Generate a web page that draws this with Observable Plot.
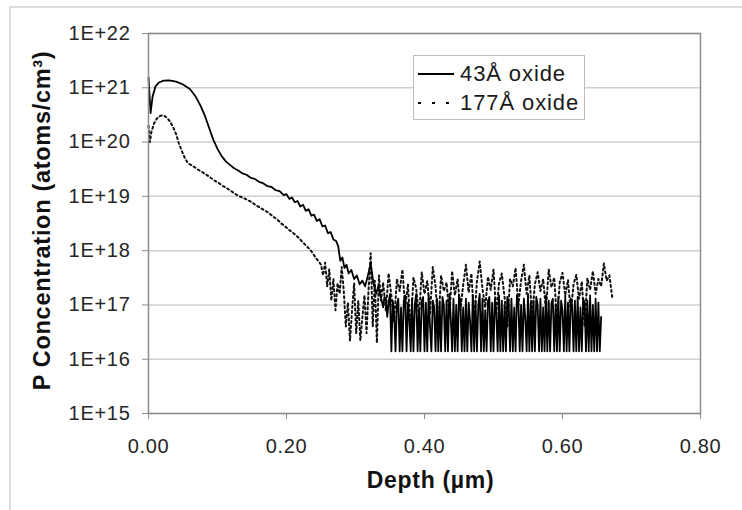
<!DOCTYPE html>
<html>
<head>
<meta charset="utf-8">
<script src="https://cdn.jsdelivr.net/npm/d3@7"></script>
<script src="https://cdn.jsdelivr.net/npm/@observablehq/plot@0.6"></script>
<style>
  body { margin: 0; background: #fff; }
  #wrap { position: relative; width: 742px; height: 510px; overflow: hidden; background: #fff;
          font-family: "Liberation Sans", Arial, Helvetica, sans-serif; }
  #outer { position: absolute; left: 9px; top: 6px; width: 760px; height: 530px;
           border: 2px solid #dcdcdc; box-sizing: border-box; }
  #chart { position: absolute; left: 0; top: 0; }
  #legend { position: absolute; left: 413px; top: 55px; width: 172px; height: 65px;
            border: 1.5px solid #bdbdbd; background: #fff; box-sizing: border-box;
            font-size: 22px; letter-spacing: 0.9px; color: #1a1a1a; }
  .row { position: absolute; left: 4px; height: 26px; display: flex; align-items: center; }
  .row svg { margin-right: 6px; }
</style>
</head>
<body>
<div id="wrap">
  <div id="outer"></div>
  <div id="chart"></div>
  <div id="legend"></div>
</div>
<script>
// ---- data ----
const seriesNames = ["43Å oxide", "177Å oxide"];
const xTicks = [0, 0.2, 0.4, 0.6, 0.8];
const yTicks = [1e15, 1e16, 1e17, 1e18, 1e19, 1e20, 1e21, 1e22];

// 43 Å oxide: depth (µm) and P concentration (atoms/cm3)
const depth43 = [
  0.000,0.003,0.006,0.010,0.015,0.022,0.030,0.040,0.050,0.060,0.068,0.075,0.082,0.088,0.094,
  0.100,0.106,0.112,0.118,0.124,0.130,0.136,0.142,0.148,0.154,0.160,0.166,0.172,0.178,0.184,
  0.190,0.196,0.200,0.204,0.208,0.212,0.216,0.220,0.224,0.228,0.232,0.236,0.240,0.244,0.248,
  0.252,0.256,0.260,0.264,0.268,0.272,0.275,0.278,0.281,0.284,0.287,0.290,0.294,0.298,0.302,
  0.306,0.310,0.314,0.318,0.322,0.326,0.330,0.333,
  0.336,0.338,0.340,0.342,0.344,0.346,0.348,0.350,0.352,0.354,
  0.356,0.358,0.360,0.362,0.364,0.366,0.368,0.370,0.372,0.374,
  0.376,0.378,0.380,0.382,0.384,0.386,0.388,0.390,0.392,0.394,
  0.396,0.398,0.400,0.402,0.404,0.406,0.408,0.410,0.412,0.414,
  0.416,0.418,0.420,0.422,0.424,0.426,0.428,0.430,0.432,0.434,
  0.436,0.438,0.440,0.442,0.444,0.446,0.448,0.450,0.452,0.454,
  0.456,0.458,0.460,0.462,0.464,0.466,0.468,0.470,0.472,0.474,
  0.476,0.478,0.480,0.482,0.484,0.486,0.488,0.490,0.492,0.494,
  0.496,0.498,0.500,0.502,0.504,0.506,0.508,0.510,0.512,0.514,
  0.516,0.518,0.520,0.522,0.524,0.526,0.528,0.530,0.532,0.534,
  0.536,0.538,0.540,0.542,0.544,0.546,0.548,0.550,0.552,0.554,
  0.556,0.558,0.560,0.562,0.564,0.566,0.568,0.570,0.572,0.574,
  0.576,0.578,0.580,0.582,0.584,0.586,0.588,0.590,0.592,0.594,
  0.596,0.598,0.600,0.602,0.604,0.606,0.608,0.610,0.612,0.614,
  0.616,0.618,0.620,0.622,0.624,0.626,0.628,0.630,0.632,0.634,
  0.636,0.638,0.640,0.642,0.644,0.646,0.648,0.650,0.652,0.654,
  0.656
];
const conc43 = [
  1.55e21,3.4e20,7e20,1.05e21,1.25e21,1.35e21,1.37e21,1.3e21,1.15e21,9.5e20,7e20,4.8e20,3e20,1.8e20,1.1e20,
  7.5e19,5.5e19,4.4e19,3.8e19,3.3e19,3.0e19,2.65e19,2.5e19,2.2e19,2.1e19,1.85e19,1.75e19,1.55e19,1.5e19,1.3e19,
  1.25e19,1.05e19,1.1e19,9e18,9.5e18,7.8e18,8.2e18,6.5e18,7e18,5.4e18,5.8e18,4.4e18,4.6e18,3.5e18,3.8e18,
  2.8e18,2.9e18,2.1e18,2.2e18,1.6e18,1.5e18,1.2e18,6.5e17,7.5e17,4.8e17,5.5e17,3.8e17,4.4e17,3e17,3.5e17,
  2.4e17,2.8e17,2.2e17,3.5e17,5.8e17,2.5e17,1.6e17,2.2e17,
  1.5e17,1.2e17,9e16,1.4e17,1.3e17,6e16,1.1e17,1.6e17,1.4e16,1.2e17,
  7e16,1.4e16,1.0e17,1.3e17,1.4e16,9e16,1.4e16,1.2e17,1.5e17,1.4e16,
  1.1e17,5e16,1.4e16,1.3e17,1.4e16,1.0e17,1.6e17,1.4e16,8e16,1.4e16,
  1.2e17,1.4e17,1.4e16,1.1e17,1.4e16,1.5e17,4e16,1.4e16,1.2e17,9e16,
  1.4e16,1.3e17,1.4e16,1.1e17,1.4e16,1.4e17,1.0e17,1.4e16,1.2e17,1.4e16,
  1.6e17,6e16,1.4e16,1.3e17,1.4e16,1.0e17,1.4e16,1.5e17,1.2e17,1.4e16,
  9e16,1.4e16,1.3e17,1.4e16,1.1e17,5e16,1.4e16,1.5e17,1.4e16,1.2e17,
  1.4e16,1.0e17,1.6e17,1.4e16,1.3e17,1.4e16,8e16,1.4e16,1.2e17,1.4e17,
  1.4e16,1.1e17,1.4e16,1.3e17,7e16,1.4e16,1.5e17,1.4e16,1.2e17,1.4e16,
  1.0e17,1.4e16,1.4e17,1.1e17,1.4e16,1.3e17,1.4e16,9e16,1.4e16,1.5e17,
  1.2e17,1.4e16,1.0e17,1.4e16,1.3e17,6e16,1.4e16,1.6e17,1.4e16,1.1e17,
  1.4e16,1.2e17,1.4e16,1.4e17,1.0e17,1.4e16,1.3e17,1.4e16,9e16,1.4e16,
  1.5e17,1.4e16,1.2e17,1.4e16,1.1e17,1.3e17,1.4e16,1.0e17,1.4e16,1.4e17,
  1.4e16,1.2e17,8e16,1.4e16,1.5e17,1.4e16,1.1e17,1.4e16,1.3e17,1.0e17,
  1.4e16,1.2e17,1.4e16,1.4e17,1.4e16,9e16,1.4e16,1.3e17,1.1e17,1.4e16,
  1.2e17,1.4e16,1.5e17,1.4e16,1.0e17,1.4e16,1.3e17,1.4e16,1.1e17,1.4e16,
  6e16
];

// 177 Å oxide: depth (µm) and P concentration (atoms/cm3)
const depth177 = [
  0.000,0.002,0.004,0.008,0.012,0.016,0.020,0.024,0.028,0.032,0.036,0.040,0.044,0.048,0.052,
  0.056,0.060,0.066,0.072,0.078,0.084,0.090,0.096,0.102,0.108,0.114,0.120,0.126,0.132,0.138,
  0.144,0.150,0.156,0.162,0.168,0.174,0.180,0.186,0.192,0.198,0.204,0.210,0.216,0.222,0.228,
  0.234,0.238,0.242,0.246,
  0.250,0.253,0.256,0.259,0.262,0.265,0.268,0.271,0.274,0.277,0.280,0.283,0.286,0.289,0.292,
  0.295,0.298,0.301,0.304,0.307,0.310,0.313,0.316,0.319,0.322,0.325,0.328,0.331,0.334,0.337,
  0.340,0.344,0.348,0.352,0.356,0.360,0.364,0.368,0.372,0.376,0.380,0.384,0.388,0.392,0.396,
  0.400,0.404,0.408,0.412,0.416,0.420,0.424,0.428,0.432,0.436,0.440,0.444,0.448,0.452,0.456,
  0.460,0.464,0.468,0.472,0.476,0.480,0.484,0.488,0.492,0.496,0.500,0.504,0.508,0.512,0.516,
  0.520,0.524,0.528,0.532,0.536,0.540,0.544,0.548,0.552,0.556,0.560,0.564,0.568,0.572,0.576,
  0.580,0.584,0.588,0.592,0.596,0.600,0.604,0.608,0.612,0.616,0.620,0.624,0.628,0.632,0.636,
  0.640,0.644,0.648,0.652,0.656,0.660,0.664,0.668,0.672
];
const conc177 = [
  2.0e20,1.0e20,1.5e20,2.2e20,2.7e20,3.0e20,3.1e20,3.0e20,2.7e20,2.3e20,1.85e20,1.4e20,9.5e19,7e19,5.3e19,
  4.3e19,3.9e19,3.5e19,3.1e19,2.8e19,2.5e19,2.2e19,1.95e19,1.75e19,1.55e19,1.4e19,1.25e19,1.1e19,1.0e19,9.3e18,
  8.5e18,7.8e18,6.8e18,6.2e18,5.5e18,5.0e18,4.3e18,3.8e18,3.2e18,2.8e18,2.4e18,2.1e18,1.8e18,1.5e18,1.25e18,
  1.05e18,9e17,7.5e17,6.5e17,
  5.5e17,3.5e17,6e17,2.2e17,4.5e17,1.2e17,3e17,8e16,2.5e17,1.6e17,5e17,1.8e17,4e16,1.1e17,2.2e16,
  8e16,2.5e17,3e16,1.2e17,2.2e16,6e16,1.5e17,3e16,2e17,9e17,4e16,2.8e17,2e16,3.5e17,1.2e17,
  2.6e17,8e16,3.8e17,1.5e17,5e16,3e17,1.8e17,4.5e17,9e16,2.4e17,3.5e16,3.2e17,2e17,6e16,4e17,
  1.6e17,2.8e17,7e16,5e17,2.2e17,4e16,3.5e17,1.8e17,2.6e17,6e16,4.2e17,1.5e17,3e17,8e16,2.3e17,
  5.5e17,1.7e17,3.8e17,5e16,2.7e17,6.3e17,2e17,9e16,3.3e17,1.9e17,4.5e17,7e16,2.5e17,3.8e17,1.4e17,
  4e16,3e17,2.2e17,4.8e17,1e17,2.8e17,5.5e17,1.6e17,3.5e17,6e16,2.4e17,4e17,1.8e17,3e17,8e16,
  4.5e17,2.1e17,3.2e17,5e16,2.6e17,3.9e17,1.5e17,2.9e17,7e16,2.4e17,3.6e17,1.3e17,2.7e17,4e16,3.1e17,
  1.9e17,4.2e17,1.6e17,3e17,2.2e17,5.8e17,2.8e17,3.5e17,1.4e17
];

// ---- build ----
const s43 = depth43.map((d, i) => ({depth: d, conc: conc43[i]}));
const s177 = depth177.map((d, i) => ({depth: d, conc: conc177[i]}));

const FONT = "'Liberation Sans', Arial, Helvetica, sans-serif";
const chart = Plot.plot({
  width: 742,
  height: 510,
  marginLeft: 148,
  marginRight: 42,
  marginTop: 33,
  marginBottom: 97,
  style: {fontFamily: FONT, fontSize: "20px", letterSpacing: "0.7px", background: "transparent", color: "#222"},
  x: {domain: [0, 0.8]},
  y: {type: "log", domain: [1e15, 1e22]},
  marks: [
    Plot.gridY(yTicks, {stroke: "#cfcfcf", strokeOpacity: 1, strokeWidth: 1.5}),
    Plot.line(s177, {x: "depth", y: "conc", stroke: "#111", strokeWidth: 2, strokeDasharray: "2,3"}),
    Plot.line(s43, {x: "depth", y: "conc", stroke: "#000", strokeWidth: 1.8}),
    Plot.frame({stroke: "#8c8c8c", strokeWidth: 1.5}),
    Plot.axisY({ticks: yTicks, tickFormat: d => "1E+" + Math.round(Math.log10(d)),
      tickSize: 6, tickPadding: 12, stroke: "#8c8c8c", fill: "#262626", fontSize: 20, label: null}),
    Plot.axisX({ticks: xTicks, tickFormat: d => d.toFixed(2),
      tickSize: 6, tickPadding: 19, stroke: "#8c8c8c", fill: "#262626", fontSize: 20, label: null}),
    Plot.text(["Depth (µm)"], {text: d => d, frameAnchor: "bottom", dx: 6, dy: 74,
      fontWeight: "bold", fontSize: 23, fill: "#111"}),
    Plot.text(["P Concentration (atoms/cm³)"], {text: d => d, frameAnchor: "left", textAnchor: "middle",
      rotate: -90, dx: -106, dy: -3, fontWeight: "bold", fontSize: 23.5, fill: "#111"})
  ]
});
document.getElementById("chart").append(chart);

// ---- legend ----
const legend = document.getElementById("legend");
const styles = [{dash: null, top: 5}, {dash: "3,11", top: 34}];
seriesNames.forEach((name, i) => {
  const row = document.createElement("div");
  row.className = "row";
  row.style.top = styles[i].top + "px";
  const svg = d3.create("svg").attr("width", 36).attr("height", 10);
  svg.append("line").attr("x1", 0).attr("x2", 36).attr("y1", 5).attr("y2", 5)
    .attr("stroke", "#000").attr("stroke-width", 2.2)
    .attr("stroke-dasharray", styles[i].dash);
  row.append(svg.node());
  const span = document.createElement("span");
  span.textContent = name;
  row.append(span);
  legend.append(row);
});
</script>
</body>
</html>
